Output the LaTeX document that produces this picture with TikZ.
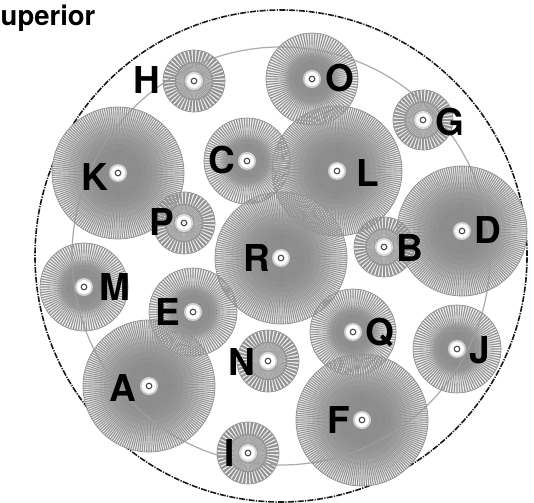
\documentclass[tikz,border=0pt]{standalone}
\usepackage{fontspec}
\setmainfont{TeX Gyre Heros}
\definecolor{raycol}{gray}{0.58}
\definecolor{edgecol}{gray}{0.58}
\tikzset{
  lbl/.style={font=\fontsize{37}{37}\selectfont\bfseries, text=black, inner sep=0pt},
  outerring/.style={draw=black!90, line width=1.6pt, dash pattern=on 6pt off 1.3pt on 1.2pt off 1.3pt},
  innerring/.style={draw=black!33, line width=1.2pt},
  hub/.style={fill=white},
  hubdot/.style={draw=black!70, line width=1.1pt, fill=white},
  rim/.style={draw=edgecol, line width=0.7pt}
}
% wedges: centre r1 r2 step halfwidth colour
\newcommand\wedges[6]{%
  \foreach \a in {0,#4,...,359.9}
    \fill[#6] ([shift={({\a-#5}:#2pt)}]#1) -- ([shift={({\a-#5}:#3pt)}]#1) -- ([shift={({\a+#5}:#3pt)}]#1) -- ([shift={({\a+#5}:#2pt)}]#1) -- cycle;
}
\newcommand\hubs[1]{\fill[white, opacity=0.6] (#1) circle (9pt); \fill[hub] (#1) circle (7pt); \draw[hubdot] (#1) circle (2.8pt);}
% bases (concentric grey steps)
\newcommand\bigbase[2]{\foreach \f/\g in {1.0/5,0.92/10,0.84/16,0.76/23,0.68/30,0.6/36,0.52/41,0.44/45,0.36/48}{\fill[black!\g] (#1) circle (\f*#2pt);}}
\newcommand\medbase[2]{\foreach \f/\g in {1.0/5,0.85/9,0.7/15,0.62/24,0.56/34,0.5/42,0.4/46}{\fill[black!\g] (#1) circle (\f*#2pt);}}
\newcommand\smallbase[2]{\fill[black!6] (#1) circle (#2pt); \fill[black!24] (#1) circle (0.6*#2pt); \fill[black!30] (#1) circle (0.35*#2pt);}
% rays
\newcommand\bigrays[2]{\wedges{#1}{0}{#2}{2}{0.5}{raycol}\draw[rim] (#1) circle (#2pt);}
\newcommand\medrays[2]{\wedges{#1}{0}{#2}{3.6}{0.85}{raycol}\draw[rim] (#1) circle (#2pt);}
\newcommand\smallrays[2]{\wedges{#1}{0.6*#2}{#2}{7.5}{2.3}{raycol}\wedges{#1}{0}{0.58*#2}{5}{1.2}{black!40}\draw[black!42, line width=1.3pt] (#1) circle (0.6*#2pt);\draw[rim] (#1) circle (#2pt);}
\begin{document}
\begin{tikzpicture}[x=1pt,y=-1pt]
\useasboundingbox (0,0) rectangle (534,502);
\fill[white] (0,0) rectangle (534,502);
\coordinate (ctr) at (281,256);
\draw[outerring] (ctr) circle (246pt);
\node[font=\fontsize{27.5}{27.5}\selectfont\bfseries, anchor=base west, inner sep=0pt] (title) at (0.5,26) {uperior};
% gear centres
\coordinate (gK) at (118,173); \coordinate (gL) at (337,171); \coordinate (gR) at (281,258);
\coordinate (gD) at (462,231); \coordinate (gA) at (149,386); \coordinate (gF) at (362,420);
\coordinate (gO) at (312,79);  \coordinate (gC) at (247,161); \coordinate (gM) at (84,287);
\coordinate (gE) at (193,312); \coordinate (gQ) at (353,332); \coordinate (gJ) at (457,349);
\coordinate (gH) at (194,81);  \coordinate (gG) at (423,120); \coordinate (gP) at (184,223);
\coordinate (gB) at (384,247); \coordinate (gN) at (268,361); \coordinate (gI) at (248,453);
% pass 1: bases
\foreach \n/\r in {gK/66,gL/65,gR/66,gD/65,gA/66,gF/66} {\bigbase{\n}{\r}}
\foreach \n/\r in {gO/46,gC/43,gM/44,gE/44,gQ/43,gJ/44} {\medbase{\n}{\r}}
\foreach \n/\r in {gH/31,gG/30,gP/31,gB/30,gN/31,gI/31} {\smallbase{\n}{\r}}
% inner ring shows through the gaps between rays
\draw[innerring] (ctr) circle (209pt);
% pass 2: rays
\foreach \n/\r in {gK/66,gL/65,gR/66,gD/65,gA/66,gF/66} {\bigrays{\n}{\r}}
\foreach \n/\r in {gO/46,gC/43,gM/44,gE/44,gQ/43,gJ/44} {\medrays{\n}{\r}}
\foreach \n/\r in {gH/31,gG/30,gP/31,gB/30,gN/31,gI/31} {\smallrays{\n}{\r}}
% hubs
\foreach \n in {gK,gL,gR,gD,gA,gF,gO,gC,gM,gE,gQ,gJ,gH,gG,gP,gB,gN,gI} {\hubs{\n}}
% labels
\node[lbl] (lH) at (147,80) {H};
\node[lbl] (lO) at (340,78) {O};
\node[lbl] (lC) at (222,160) {C};
\node[lbl] (lL) at (368,173) {L};
\node[lbl] (lG) at (450,122) {G};
\node[lbl] (lK) at (95,177) {K};
\node[lbl] (lP) at (162,222) {P};
\node[lbl] (lM) at (115,287) {M};
\node[lbl] (lE) at (168,312) {E};
\node[lbl] (lA) at (123,388) {A};
\node[lbl] (lN) at (242,362) {N};
\node[lbl] (lI) at (230,453) {I};
\node[lbl] (lF) at (339,420) {F};
\node[lbl] (lJ) at (480,350) {J};
\node[lbl] (lQ) at (380,333) {Q};
\node[lbl] (lD) at (488,230) {D};
\node[lbl] (lB) at (410,248) {B};
\node[lbl] (lR) at (257,258) {R};
\end{tikzpicture}
\end{document}
